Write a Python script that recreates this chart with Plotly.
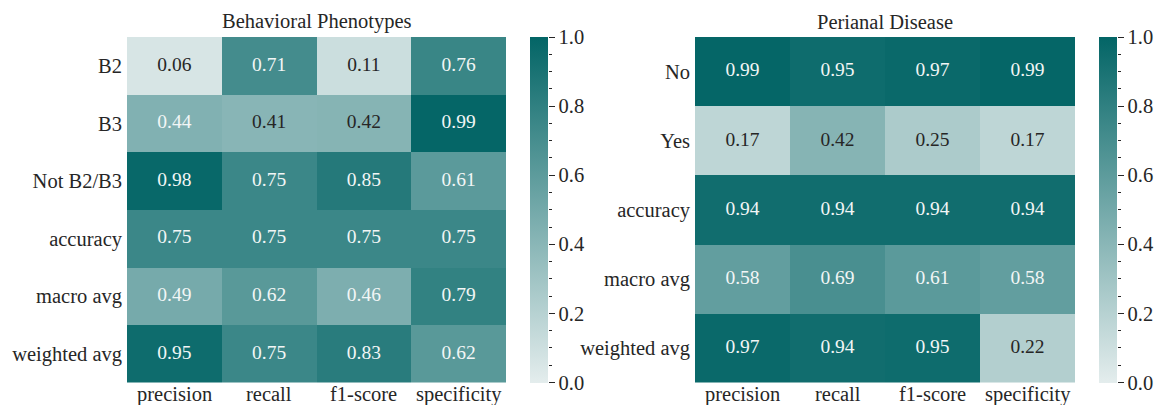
import plotly.graph_objects as go

W, H = 1156, 405

metrics = ["precision", "recall", "f1-score", "specificity"]

bp_rows = ["B2", "B3", "Not B2/B3", "accuracy", "macro avg", "weighted avg"]
bp_values = [
    [0.06, 0.71, 0.11, 0.76],
    [0.44, 0.41, 0.42, 0.99],
    [0.98, 0.75, 0.85, 0.61],
    [0.75, 0.75, 0.75, 0.75],
    [0.49, 0.62, 0.46, 0.79],
    [0.95, 0.75, 0.83, 0.62],
]

pd_rows = ["No", "Yes", "accuracy", "macro avg", "weighted avg"]
pd_values = [
    [0.99, 0.95, 0.97, 0.99],
    [0.17, 0.42, 0.25, 0.17],
    [0.94, 0.94, 0.94, 0.94],
    [0.58, 0.69, 0.61, 0.58],
    [0.97, 0.94, 0.95, 0.22],
]

cbar_ticks = [0.0, 0.2, 0.4, 0.6, 0.8, 1.0]

LIGHT = (228, 237, 237)
DARK = (3, 101, 102)
colorscale = [[0, "rgb(%d,%d,%d)" % LIGHT], [1, "rgb(%d,%d,%d)" % DARK]]
FONT = "Liberation Serif"
TXT = "#262626"
LBL = 20.5


def color_at(v):
    return [LIGHT[i] + (DARK[i] - LIGHT[i]) * v for i in range(3)]


def lum(rgb):
    out = []
    for c in rgb:
        c = c / 255
        out.append(c / 12.92 if c <= 0.03928 else ((c + 0.055) / 1.055) ** 2.4)
    return 0.2126 * out[0] + 0.7152 * out[1] + 0.0722 * out[2]


def px_x(p):
    return p / W


def px_y(p):
    return 1 - p / H


panels = [
    dict(rows=bp_rows, vals=bp_values, title="Behavioral Phenotypes",
         x0=127, x1=506, cb0=529.5, cb1=547.5),
    dict(rows=pd_rows, vals=pd_values, title="Perianal Disease",
         x0=695, x1=1075, cb0=1098.5, cb1=1116.5),
]
top, bot = 37, 382.5

fig = go.Figure()
layout = dict(width=W, height=H, margin=dict(l=0, r=0, t=0, b=0, autoexpand=False),
              paper_bgcolor="white", plot_bgcolor="white", showlegend=False,
              font=dict(family=FONT, color=TXT, size=LBL), annotations=[])

for k, p in enumerate(panels):
    xa = "x" if k == 0 else "x%d" % (2 * k + 1)
    ya = "y" if k == 0 else "y%d" % (2 * k + 1)
    xa_c = "x%d" % (2 * k + 2)
    ya_c = "y%d" % (2 * k + 2)
    fig.add_trace(go.Heatmap(
        z=p["vals"], x=metrics, y=p["rows"], xaxis=xa, yaxis=ya,
        zmin=0, zmax=1, colorscale=colorscale, showscale=True, hoverinfo="skip",
        colorbar=dict(x=px_x(p["cb0"]), xanchor="left", thickness=p["cb1"] - p["cb0"],
                      thicknessmode="pixels", lenmode="fraction",
                      len=(bot - top) / H, y=px_y(top), yanchor="top",
                      xpad=0, ypad=0, outlinewidth=0, ticks="", showticklabels=False),
    ))
    xs, ys, txt, cols = [], [], [], []
    for r, row in enumerate(p["rows"]):
        for c, m in enumerate(metrics):
            v = p["vals"][r][c]
            xs.append(m)
            ys.append(row)
            txt.append("%.2f" % v)
            cols.append(TXT if lum(color_at(v)) > 0.40 else "#f2f6f6")
    fig.add_trace(go.Scatter(x=xs, y=ys, text=txt, mode="text", xaxis=xa, yaxis=ya,
                             textfont=dict(family=FONT, size=19.5, color=cols),
                             hoverinfo="skip"))
    fig.add_trace(go.Scatter(x=[None], y=[None], xaxis=xa_c, yaxis=ya_c, hoverinfo="skip"))

    xkey = "xaxis" if k == 0 else "xaxis%d" % (2 * k + 1)
    ykey = "yaxis" if k == 0 else "yaxis%d" % (2 * k + 1)
    layout[xkey] = dict(domain=[px_x(p["x0"]), px_x(p["x1"])], anchor=ya, automargin=False,
                        showgrid=False, zeroline=False, ticks="", showline=False,
                        showticklabels=False)
    layout[ykey] = dict(domain=[px_y(bot), px_y(top)], anchor=xa, autorange="reversed",
                        automargin=False,
                        showgrid=False, zeroline=False, ticks="", showline=False,
                        tickfont=dict(size=LBL), ticklabelstandoff=4)
    layout["xaxis%d" % (2 * k + 2)] = dict(domain=[px_x(p["cb0"]), px_x(p["cb1"])],
                                           anchor=ya_c, visible=False, range=[0, 1],
                                           automargin=False)
    layout["yaxis%d" % (2 * k + 2)] = dict(
        domain=[px_y(bot), px_y(top)], anchor=xa_c, side="right", range=[0, 1],
        automargin=False,
        showgrid=False, zeroline=False, showline=False, ticks="outside", ticklen=6,
        tickwidth=1, tickcolor=TXT, tickvals=cbar_ticks,
        ticktext=["%.1f" % t for t in cbar_ticks], tickfont=dict(size=LBL),
        minor=dict(dtick=0.05, ticks="outside", ticklen=3.5, tickwidth=1,
                   tickcolor=TXT, showgrid=False))
    for m in metrics:
        layout["annotations"].append(dict(
            text=m, x=m, xref=xa, y=px_y(394), yref="paper", xanchor="center",
            yanchor="middle", showarrow=False, borderpad=0,
            font=dict(size=LBL, family=FONT, color=TXT)))
    layout["annotations"].append(dict(
        text=p["title"], x=(px_x(p["x0"]) + px_x(p["x1"])) / 2, y=px_y(top) + 2 / H,
        xref="paper", yref="paper", xanchor="center", yanchor="bottom",
        showarrow=False, font=dict(size=LBL, family=FONT, color=TXT)))

fig.update_layout(**layout)
fig.write_html("out.html", config={"displayModeBar": False},
               post_script="document.body.style.margin='0px';document.body.style.overflow='hidden';")
